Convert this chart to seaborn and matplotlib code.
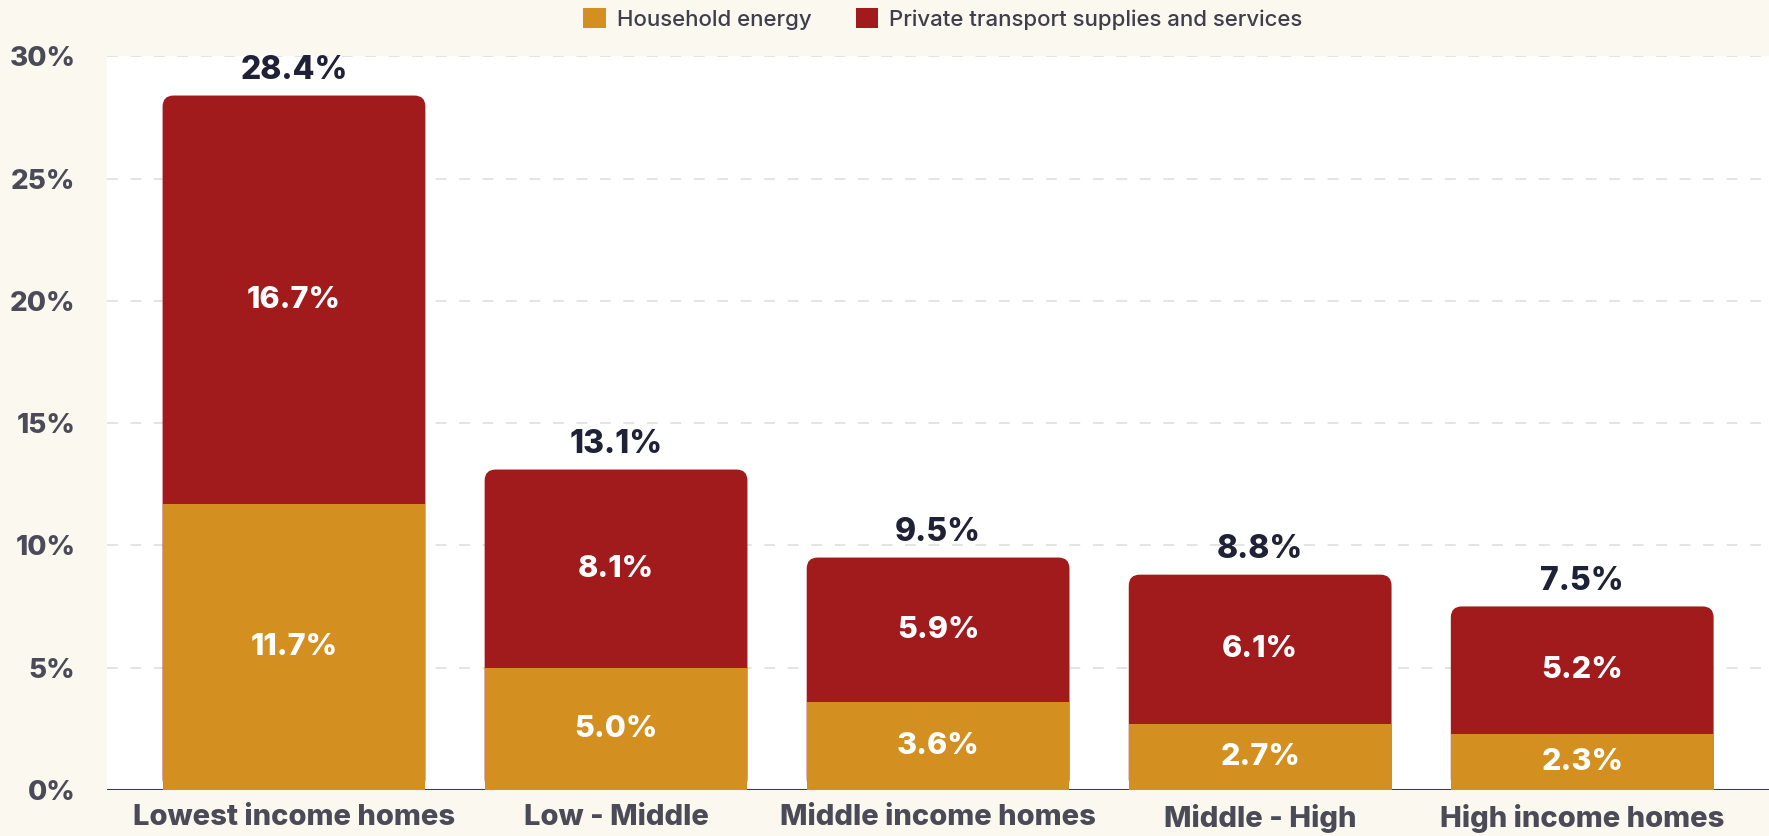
import matplotlib
matplotlib.use("Agg")
import matplotlib.pyplot as plt
import seaborn as sns
import pandas as pd
from matplotlib.patches import FancyBboxPatch, Patch

categories = ["Lowest income homes", "Low - Middle", "Middle income homes", "Middle - High", "High income homes"]
household_energy = [11.7, 5.0, 3.6, 2.7, 2.3]
private_transport = [16.7, 8.1, 5.9, 6.1, 5.2]
yticks = [0, 5, 10, 15, 20, 25, 30]

totals = [round(a + b, 1) for a, b in zip(household_energy, private_transport)]
df = pd.DataFrame({"cat": categories, "energy": household_energy,
                   "transport": private_transport, "total": totals})

ORANGE = "#D38F20"
RED = "#A11B1D"
NAVY = "#1F2236"
GRAY = "#4A4B57"
BG = "#FBF8F0"

sns.set_theme(style="white")
plt.rcParams["font.family"] = ["Inter", "DejaVu Sans"]

fig = plt.figure(figsize=(17.69, 8.36), dpi=100, facecolor=BG)
ax = fig.add_axes([0.0606, 0.0553, 0.9394, 0.8772])
ax.set_facecolor("white")

W = 0.816
sns.barplot(data=df, x="cat", y="total", color=RED, width=W, ax=ax,
            saturation=1, zorder=3, edgecolor="none", linewidth=0)
n_red = len(ax.patches)
sns.barplot(data=df, x="cat", y="energy", color=ORANGE, width=W, ax=ax,
            saturation=1, zorder=4, edgecolor="none", linewidth=0)

ax.set_xlim(-0.58, len(categories) - 1 + 0.58)
ax.set_ylim(0, 30)
fig.canvas.draw()

# rounded top corners on red bars
px_x = ax.transData.transform((1, 0))[0] - ax.transData.transform((0, 0))[0]
px_y = ax.transData.transform((0, 1))[1] - ax.transData.transform((0, 0))[1]
r_px = 11
for p in list(ax.patches[:n_red]):
    x, y, w, h = p.get_x(), p.get_y(), p.get_width(), p.get_height()
    p.remove()
    fb = FancyBboxPatch((x, y), w, h,
                        boxstyle=f"round,pad=0,rounding_size={r_px / px_x}",
                        mutation_aspect=px_x / px_y,
                        facecolor=RED, edgecolor="none", zorder=3)
    ax.add_patch(fb)

# gridlines and baseline
for t in yticks[1:]:
    ax.axhline(t, color="#E2E2E2", lw=1.3, ls=(0, (6, 7)), zorder=1)
ax.axhline(0, color="#3A3B45", lw=2.2, zorder=2)

for s in ax.spines.values():
    s.set_visible(False)

ax.set_yticks(yticks)
ax.set_yticklabels([f"{t}%" for t in yticks], fontsize=20, fontweight="heavy", color=GRAY)
ax.tick_params(axis="y", length=0, pad=23)
ax.tick_params(axis="x", length=0, pad=10)
for lab in ax.get_xticklabels():
    lab.set_fontsize(21)
    lab.set_fontweight("heavy")
    lab.set_color(GRAY)
ax.set_xlabel("")
ax.set_ylabel("")

# labels
for i, (e, t, tot) in enumerate(zip(household_energy, private_transport, totals)):
    ax.text(i, e / 2, f"{e:.1f}%", ha="center", va="center", color="white",
            fontsize=22, fontweight="heavy", zorder=5)
    ax.text(i, e + t / 2, f"{t:.1f}%", ha="center", va="center", color="white",
            fontsize=22, fontweight="heavy", zorder=5)
    ax.text(i, tot + 0.4, f"{tot:.1f}%", ha="center", va="bottom", color=NAVY,
            fontsize=23, fontweight="heavy", zorder=5)

handles = [Patch(facecolor=ORANGE, edgecolor="none", label="Household energy"),
           Patch(facecolor=RED, edgecolor="none", label="Private transport supplies and services")]
fig.legend(handles=handles, loc="center", bbox_to_anchor=(0.533, 0.977), ncol=2,
           frameon=False, fontsize=16, handlelength=1.0, handleheight=1.0,
           handletextpad=0.5, columnspacing=2.0, labelcolor="#3E3F4A",
           prop={"size": 16, "weight": "medium"})

fig.savefig("out.png", dpi=100, facecolor=BG)
